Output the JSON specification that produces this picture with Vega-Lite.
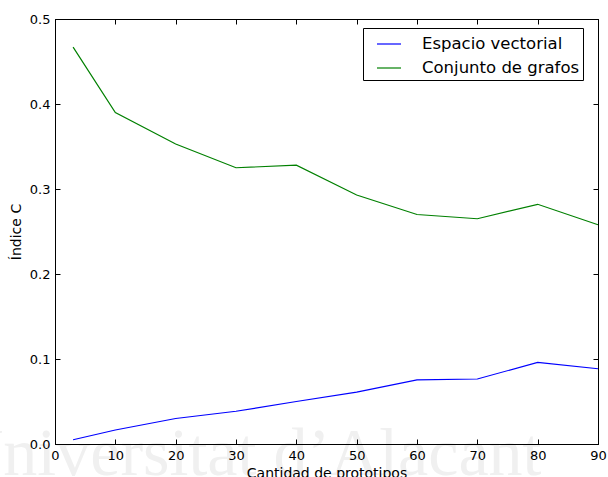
{
  "$schema": "https://vega.github.io/schema/vega-lite/v6.json",
  "width": 543,
  "height": 425,
  "autosize": {"type": "none"},
  "padding": {"left": 55, "top": 19, "right": 10, "bottom": 33},
  "background": "white",
  "config": {
    "font": "DejaVu Sans",
    "view": {"stroke": "black", "strokeWidth": 1},
    "axis": {
      "grid": false,
      "zindex": 2,
      "domainColor": "black",
      "domainWidth": 1,
      "tickColor": "black",
      "tickWidth": 1,
      "tickSize": -5,
      "labelColor": "black",
      "labelFont": "DejaVu Sans",
      "labelFontSize": 13,
      "labelPadding": 10,
      "titleColor": "black",
      "titleFont": "DejaVu Sans",
      "titleFontSize": 14,
      "titleFontWeight": "normal"
    },
    "legend": {
      "labelFont": "DejaVu Sans",
      "labelFontSize": 16.5,
      "labelColor": "black"
    }
  },
  "datasets": {
    "series": [
      {"prototipos": 3, "indice": 0.005, "metodo": "Espacio vectorial"},
      {"prototipos": 10, "indice": 0.0165, "metodo": "Espacio vectorial"},
      {"prototipos": 20, "indice": 0.030, "metodo": "Espacio vectorial"},
      {"prototipos": 30, "indice": 0.0385, "metodo": "Espacio vectorial"},
      {"prototipos": 40, "indice": 0.050, "metodo": "Espacio vectorial"},
      {"prototipos": 50, "indice": 0.061, "metodo": "Espacio vectorial"},
      {"prototipos": 60, "indice": 0.0755, "metodo": "Espacio vectorial"},
      {"prototipos": 70, "indice": 0.0765, "metodo": "Espacio vectorial"},
      {"prototipos": 80, "indice": 0.096, "metodo": "Espacio vectorial"},
      {"prototipos": 90, "indice": 0.0885, "metodo": "Espacio vectorial"},
      {"prototipos": 3, "indice": 0.467, "metodo": "Conjunto de grafos"},
      {"prototipos": 10, "indice": 0.390, "metodo": "Conjunto de grafos"},
      {"prototipos": 20, "indice": 0.353, "metodo": "Conjunto de grafos"},
      {"prototipos": 30, "indice": 0.325, "metodo": "Conjunto de grafos"},
      {"prototipos": 40, "indice": 0.328, "metodo": "Conjunto de grafos"},
      {"prototipos": 50, "indice": 0.293, "metodo": "Conjunto de grafos"},
      {"prototipos": 60, "indice": 0.270, "metodo": "Conjunto de grafos"},
      {"prototipos": 70, "indice": 0.265, "metodo": "Conjunto de grafos"},
      {"prototipos": 80, "indice": 0.282, "metodo": "Conjunto de grafos"},
      {"prototipos": 90, "indice": 0.258, "metodo": "Conjunto de grafos"}
    ],
    "watermark": [
      {"rotulo": "Universitat d’Alacant", "x": -16.7, "y": -0.037}
    ]
  },
  "layer": [
    {
      "description": "Faint university watermark behind the plot",
      "data": {"name": "watermark"},
      "mark": {
        "type": "text",
        "font": "Liberation Serif",
        "fontSize": 68,
        "align": "left",
        "baseline": "alphabetic",
        "color": "#f0f0f0"
      },
      "encoding": {
        "x": {"field": "x", "type": "quantitative", "axis": null},
        "y": {"field": "y", "type": "quantitative", "axis": null},
        "text": {"field": "rotulo"}
      }
    },
    {
      "data": {"name": "series"},
      "mark": {"type": "line", "strokeWidth": 1.2},
      "encoding": {
        "x": {
          "field": "prototipos",
          "type": "quantitative",
          "scale": {"domain": [0, 90], "nice": false, "zero": false},
          "axis": {
            "orient": "bottom",
            "zindex": 2,
            "title": "Cantidad de prototipos",
            "values": [0, 10, 20, 30, 40, 50, 60, 70, 80, 90],
            "labelFlush": false,
            "titlePadding": 4
          }
        },
        "y": {
          "field": "indice",
          "type": "quantitative",
          "scale": {"domain": [0, 0.5], "nice": false},
          "axis": {
            "orient": "left",
            "zindex": 2,
            "title": "Índice C",
            "values": [0, 0.1, 0.2, 0.3, 0.4, 0.5],
            "format": ".1f",
            "labelFlush": false,
            "titlePadding": 6
          }
        },
        "color": {
          "field": "metodo",
          "type": "nominal",
          "scale": {
            "domain": ["Espacio vectorial", "Conjunto de grafos"],
            "range": ["#0000ff", "#008000"]
          },
          "legend": {
            "title": null,
            "orient": "none",
            "legendX": 308,
            "legendY": 9,
            "direction": "vertical",
            "symbolType": "stroke",
            "symbolSize": 576,
            "symbolStrokeWidth": 1.2,
            "symbolOffset": 10,
            "labelOffset": 20,
            "rowPadding": 2,
            "padding": 3,
            "strokeColor": "black",
            "fillColor": "white",
            "cornerRadius": 0,
            "zindex": 3
          }
        }
      }
    },
    {
      "description": "Mirror axes on the top and right edges, ticks only",
      "data": {"name": "series"},
      "mark": {"type": "line", "strokeOpacity": 0},
      "encoding": {
        "x": {
          "field": "prototipos",
          "type": "quantitative",
          "axis": {"orient": "top", "zindex": 2, "title": null, "labels": false, "values": [0, 10, 20, 30, 40, 50, 60, 70, 80, 90]}
        },
        "y": {
          "field": "indice",
          "type": "quantitative",
          "axis": {"orient": "right", "zindex": 2, "title": null, "labels": false, "values": [0, 0.1, 0.2, 0.3, 0.4, 0.5]}
        },
        "detail": {"field": "metodo"}
      }
    }
  ],
  "resolve": {"axis": {"x": "independent", "y": "independent"}}
}
